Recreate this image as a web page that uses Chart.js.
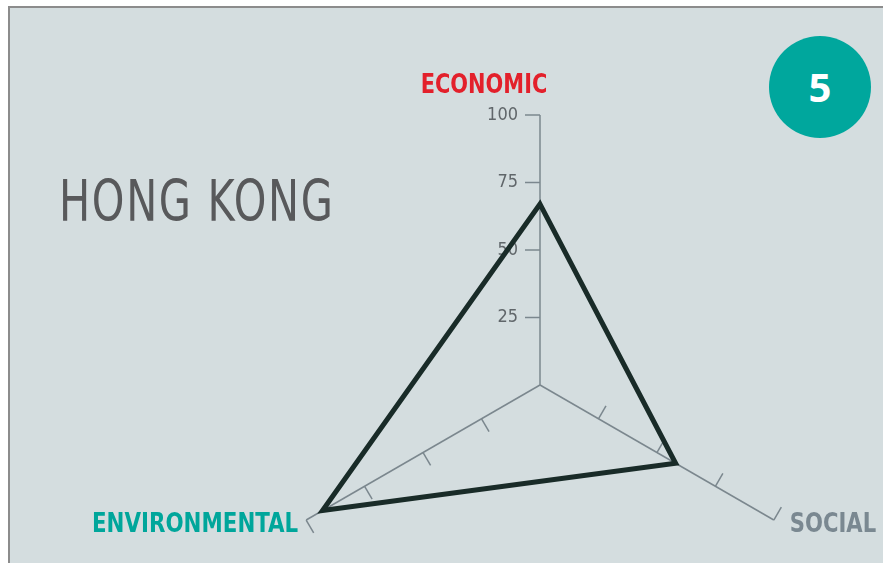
<!DOCTYPE html>
<html>
<head>
<meta charset="utf-8">
<script src="https://cdn.jsdelivr.net/npm/chart.js@4/dist/chart.umd.min.js"></script>
<style>
    html, body {
        margin: 0;
        padding: 0;
        width: 883px;
        height: 563px;
        overflow: hidden;
        background: #ffffff;
    }
    .panel {
        position: absolute;
        left: 8px;
        top: 6px;
        width: 900px;
        height: 600px;
        background: #d4dddf;
        border-left: 2px solid #8c8c8c;
        border-top: 2px solid #8c8c8c;
    }
    .city {
        position: absolute;
        left: 59px;
        top: 168px;
        font-family: 'DejaVu Sans Condensed', sans-serif;
        font-size: 57px;
        color: #58595b;
        letter-spacing: 2px;
        white-space: nowrap;
        transform: scaleX(0.81);
        transform-origin: left top;
    }
    .badge {
        position: absolute;
        left: 769px;
        top: 36px;
        width: 102px;
        height: 102px;
        border-radius: 50%;
        background: #00a79d;
        color: #ffffff;
        font-family: 'Open Sans', sans-serif;
        font-weight: bold;
        font-size: 40px;
        line-height: 102px;
        text-align: center;
    }
    canvas#radarChart {
        position: absolute;
        left: 0;
        top: 0;
    }
</style>
</head>
<body>
<div class="panel"></div>
<div class="city">HONG KONG</div>
<div class="badge">5</div>
<canvas id="radarChart" width="883" height="700"></canvas>

<script>
// Chart data
const axisNames = ["ECONOMIC", "SOCIAL", "ENVIRONMENTAL"];
const axisColors = ["#e3202b", "#7a8891", "#00a69b"];
const scores = [67, 58, 93];
const tickValues = [25, 50, 75, 100];
const tickLabels = ["25", "50", "75", "100"];

document.addEventListener("DOMContentLoaded", function () {
    const ctx = document.getElementById("radarChart").getContext("2d");
    const lineColor = "#7b878e";
    const labelFont = "'DejaVu Sans Condensed', sans-serif";

    // draw text squeezed horizontally, anchored at x
    function narrowText(c, text, x, y, align, squeeze) {
        c.save();
        c.translate(x, y);
        c.scale(squeeze, 1);
        c.textAlign = align;
        c.fillText(text, 0, 0);
        c.restore();
    }

    // Tick marks, tick labels and axis names drawn from the radial scale
    const axisDecorPlugin = {
        id: "axisDecor",
        beforeDatasetsDraw: (chart) => {
            const scale = chart.scales.r;
            const c = chart.ctx;
            const cx = scale.xCenter;
            const cy = scale.yCenter;

            c.save();
            c.strokeStyle = lineColor;
            c.lineWidth = 1.5;

            axisNames.forEach((name, i) => {
                const end = scale.getPointPositionForValue(i, 100);
                const len = Math.hypot(end.x - cx, end.y - cy);
                const dx = (end.x - cx) / len;
                const dy = (end.y - cy) / len;
                // perpendicular, rotated towards the tick side
                const px = dy;
                const py = -dx;

                tickValues.forEach((v) => {
                    const p = scale.getPointPositionForValue(i, v);
                    c.beginPath();
                    c.moveTo(p.x, p.y);
                    c.lineTo(p.x + px * 15, p.y + py * 15);
                    c.stroke();
                });
            });

            // Tick labels along the first axis
            c.fillStyle = "#60666a";
            c.font = "18px " + labelFont;
            c.textBaseline = "middle";
            tickValues.forEach((v, k) => {
                const p = scale.getPointPositionForValue(0, v);
                narrowText(c, tickLabels[k], p.x - 22, p.y, "right", 1);
            });

            // Axis names
            c.font = "bold 27px " + labelFont;
            c.textBaseline = "alphabetic";
            const top = scale.getPointPositionForValue(0, 100);
            c.fillStyle = axisColors[0];
            narrowText(c, axisNames[0], top.x - 56, top.y - 22, "center", 0.86);

            const right = scale.getPointPositionForValue(1, 100);
            c.fillStyle = axisColors[1];
            narrowText(c, axisNames[1], right.x + 16, right.y + 12, "left", 0.87);

            const left = scale.getPointPositionForValue(2, 100);
            c.fillStyle = axisColors[2];
            narrowText(c, axisNames[2], left.x - 8, left.y + 12, "right", 0.88);

            c.restore();
        },
    };

    new Chart(ctx, {
        type: "radar",
        data: {
            labels: axisNames,
            datasets: [
                {
                    data: scores,
                    borderColor: "#192b28",
                    borderWidth: 5,
                    borderJoinStyle: "miter",
                    backgroundColor: "rgba(0,0,0,0)",
                    fill: false,
                    pointRadius: 0,
                },
            ],
        },
        options: {
            responsive: false,
            animation: false,
            layout: {
                padding: { left: 270, right: 73, top: 115, bottom: 45 },
            },
            plugins: {
                legend: { display: false },
                tooltip: { enabled: false },
            },
            scales: {
                r: {
                    min: 0,
                    max: 100,
                    ticks: { display: false, stepSize: 25 },
                    grid: { display: false },
                    angleLines: { color: lineColor, lineWidth: 1.5 },
                    pointLabels: { display: false },
                },
            },
        },
        plugins: [axisDecorPlugin],
    });
});
</script>
</body>
</html>
